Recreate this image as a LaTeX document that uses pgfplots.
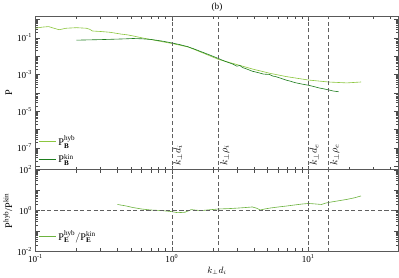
\documentclass[border=0pt]{standalone}
\usepackage{fontspec}
\setmainfont{Liberation Serif}
\usepackage{pgfplots}
\pgfplotsset{compat=1.18}
\definecolor{hyb}{HTML}{8CC63F}
\definecolor{kin}{HTML}{1E7D1E}
\definecolor{rat}{HTML}{6DB33F}
\begin{document}
\begin{tikzpicture}
\pgfplotsset{
  every axis/.append style={
    font=\small,
    scale only axis, width=357pt,
    xmode=log, xmin=0.1, xmax=46,
    axis line style={gray!70!black, line width=0.8pt},
    tick style={gray!60!black},
    tick align=inside,
    legend cell align=left,
    legend style={draw=none, fill=none, font=\normalsize, row sep=3pt, inner sep=1pt},
    legend image post style={line width=0.6pt},
  },
  vline/.style={gray!75!black, dash pattern=on 4pt off 2.5pt, line width=0.5pt, forget plot},
}
\begin{axis}[name=top, height=151pt,
  ymode=log, ymin=6.3e-9, ymax=1.48,
  ytick={1e-8,1e-7,1e-6,1e-5,1e-4,1e-3,1e-2,1e-1,1},
  yticklabels={,10\textsuperscript{-7},,10\textsuperscript{-5},,10\textsuperscript{-3},,10\textsuperscript{-1},},
  xticklabels={},
  ylabel={\normalsize P}, ylabel style={yshift=-2pt},
  title={(b)}, title style={yshift=-5pt},
  legend style={at={(0.005,0.015)}, anchor=south west},
]
\addplot[hyb, line width=0.6pt] coordinates {
(0.1,0.331) (0.112,0.38) (0.125,0.407) (0.137,0.33) (0.149,0.275) (0.158,0.30) (0.168,0.331)
(0.2,0.355) (0.236,0.331) (0.25,0.29) (0.262,0.234) (0.30,0.22) (0.351,0.200)
(0.427,0.158) (0.47,0.145) (0.520,0.126) (0.60,0.10) (0.697,0.0813) (0.832,0.063) (1.0,0.049)
(1.315,0.0316) (1.644,0.0162) (2.203,0.0066) (2.904,0.00372) (3.89,0.0020) (5.20,0.00117)
(6.85,7.76e-4) (10,5.0e-4) (14.1,3.89e-4) (19.2,3.47e-4) (24.4,3.89e-4)
};
\addlegendentry{$\mathrm{P}^{\mathrm{hyb}}_{\mathbf{B}}$}
\addplot[kin, line width=0.6pt] coordinates {
(0.2,0.0741) (0.3,0.0794) (0.45,0.087) (0.52,0.0912) (0.6,0.088) (0.7,0.0813) (0.85,0.066)
(1.0,0.0525) (1.15,0.042) (1.3,0.0331) (1.45,0.025) (1.644,0.0174) (1.9,0.0115) (2.2,0.0074)
(2.4,0.0056) (2.6,0.00447) (2.8,0.0037) (3.0,0.00282) (3.15,0.0031) (3.3,0.0024) (3.6,0.0019)
(3.9,0.0015) (4.3,0.00126) (4.7,0.00105) (5.2,0.001) (5.5,0.00082) (5.8,7.6e-4) (6.3,6.2e-4)
(6.85,5.0e-4) (7.4,4.3e-4) (8,3.6e-4) (9,3.0e-4) (10,2.6e-4) (11,2.2e-4) (12,1.85e-4)
(13,1.65e-4) (14.1,1.45e-4) (15.3,1.25e-4) (16.7,1.15e-4)
};
\addlegendentry{$\mathrm{P}^{\mathrm{kin}}_{\mathbf{B}}$}
\addplot[vline] coordinates {(1,1e-9) (1,10)};
\addplot[vline] coordinates {(2.2,1e-9) (2.2,10)};
\addplot[vline] coordinates {(10,1e-9) (10,10)};
\addplot[vline] coordinates {(14.1,1e-9) (14.1,10)};
\node[rotate=90, anchor=north west, inner sep=1.5pt, font=\normalsize] at (axis cs:1,8.5e-9) {$k_\perp d_i$};
\node[rotate=90, anchor=north west, inner sep=1.5pt, font=\normalsize] at (axis cs:2.2,8.5e-9) {$k_\perp \rho_i$};
\node[rotate=90, anchor=north west, inner sep=1.5pt, font=\normalsize] at (axis cs:10,8.5e-9) {$k_\perp d_e$};
\node[rotate=90, anchor=north west, inner sep=1.5pt, font=\normalsize] at (axis cs:14.1,8.5e-9) {$k_\perp \rho_e$};
\end{axis}
\begin{axis}[at={(top.south)}, anchor=north, height=80pt,
  ymode=log, ymin=1e-2, ymax=1e2,
  ytick={1e-2,1e-1,1,10,100},
  yticklabels={10\textsuperscript{-2},,10\textsuperscript{0},,10\textsuperscript{2}},
  xtick={0.1,1,10},
  xticklabels={10\textsuperscript{-1},10\textsuperscript{0},10\textsuperscript{1}},
  xlabel={$k_\perp d_i$}, xlabel style={yshift=3pt},
  ylabel={\normalsize P$^{\mathrm{hyb}}$/P$^{\mathrm{kin}}$}, ylabel style={yshift=-2pt},
  legend style={at={(0.005,0.19)}, anchor=west},
]
\addplot[rat, line width=0.6pt] coordinates {
(0.4,2.0) (0.46,1.7) (0.52,1.41) (0.6,1.2) (0.7,1.07) (0.85,1.0) (1.0,0.89) (1.1,0.79)
(1.25,0.83) (1.39,1.12) (1.5,1.05) (1.644,1.0) (1.9,1.1) (2.2,1.2) (2.6,1.25) (3.0,1.32)
(3.4,1.4) (3.9,1.51) (4.2,1.3) (4.45,1.07) (4.8,1.2) (5.2,1.32) (6.0,1.5) (6.85,1.66)
(8,1.9) (9,2.1) (10,2.24) (11,2.15) (12.5,2.0) (13.3,2.3) (14.1,2.51) (16,2.9) (19.2,3.55)
(22,4.3) (24.4,5.25)
};
\addlegendentry{$\mathrm{P}^{\mathrm{hyb}}_{\mathbf{E}}/\mathrm{P}^{\mathrm{kin}}_{\mathbf{E}}$}
\addplot[vline] coordinates {(0.05,1) (100,1)};
\addplot[vline] coordinates {(1,1e-3) (1,1e3)};
\addplot[vline] coordinates {(2.2,1e-3) (2.2,1e3)};
\addplot[vline] coordinates {(10,1e-3) (10,1e3)};
\addplot[vline] coordinates {(14.1,1e-3) (14.1,1e3)};
\end{axis}
\end{tikzpicture}
\end{document}
